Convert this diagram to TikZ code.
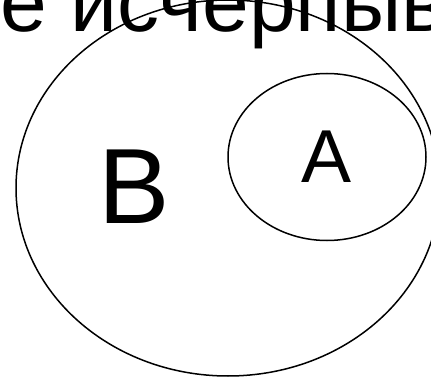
\documentclass[tikz,border=0pt]{standalone}
\usepackage{fontspec}
\setmainfont{Liberation Sans}
\usetikzlibrary{shapes.geometric}
\begin{document}
\begin{tikzpicture}[x=1pt,y=-1pt,
  setline/.style={draw=black,line width=1.5pt,ellipse,inner sep=0pt},
  bigtxt/.style={inner sep=0pt,text=black}]
\useasboundingbox (0,0) rectangle (431,377);
\clip (0,0) rectangle (431,377);
\fill[white] (0,0) rectangle (431,377);
\node[bigtxt,anchor=base west,font=\fontsize{84}{90}\selectfont] (title) at (0.5,31.7) {е исчерпыв};
\node[setline,minimum width=424pt,minimum height=376pt] (setB) at (228,188) {};
\node[setline,minimum width=198pt,minimum height=167pt] (setA) at (327,157) {};
\node[bigtxt,font=\fontsize{107}{110}\selectfont] (labB) at (134.5,186.5) {B};
\node[bigtxt,font=\fontsize{75}{80}\selectfont] (labA) at (327,157) {A};
\end{tikzpicture}
\end{document}
